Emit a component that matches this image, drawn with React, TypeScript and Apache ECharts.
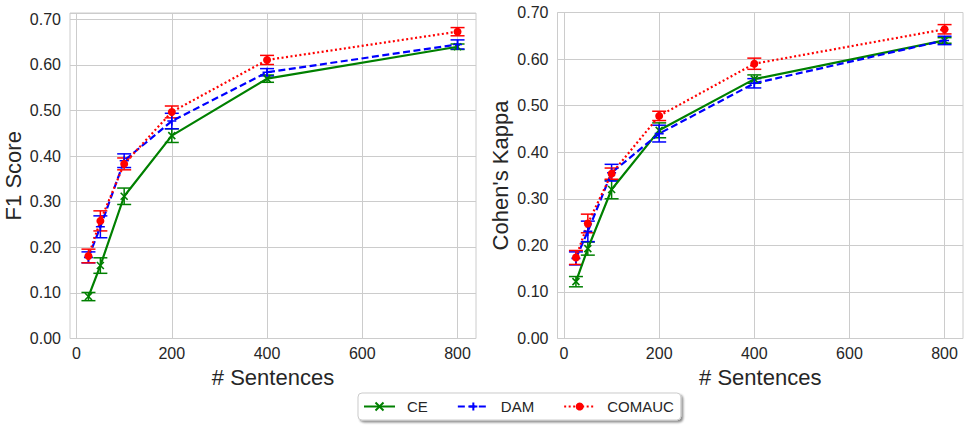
import React, { useEffect, useRef } from "react";
import * as echarts from "echarts";

const sentences = [25, 50, 100, 200, 400, 800];
const xTicks = [0, 200, 400, 600, 800];

const f1CE = [0.092, 0.16, 0.312, 0.445, 0.57, 0.64];
const f1CEErr = [0.009, 0.017, 0.018, 0.015, 0.008, 0.006];
const f1DAM = [0.178, 0.245, 0.39, 0.477, 0.584, 0.645];
const f1DAMErr = [0.012, 0.024, 0.015, 0.017, 0.008, 0.01];
const f1COM = [0.181, 0.258, 0.383, 0.497, 0.611, 0.673];
const f1COMErr = [0.015, 0.022, 0.013, 0.013, 0.01, 0.009];

const kCE = [0.122, 0.193, 0.32, 0.447, 0.557, 0.64];
const kCEErr = [0.011, 0.014, 0.02, 0.016, 0.009, 0.006];
const kDAM = [0.172, 0.23, 0.356, 0.44, 0.548, 0.64];
const kDAMErr = [0.014, 0.022, 0.018, 0.018, 0.01, 0.009];
const kCOM = [0.174, 0.247, 0.354, 0.478, 0.59, 0.664];
const kCOMErr = [0.015, 0.02, 0.012, 0.01, 0.012, 0.01];

const GREEN = "#008000";
const BLUE = "#0000ff";
const RED = "#ff0000";
const TXT = "#262626";
const GRID = "#cccccc";
const FONT = "'Liberation Sans', Arial, sans-serif";

const X_SYM = "path://M0,0L10,10M10,0L0,10";
const P_SYM = "path://M5,0L5,10M0,5L10,5";

function lineSeries(name: string, idx: number, vals: number[], color: string, type: any, symbol: string, size: number) {
  return {
    type: "line",
    name,
    xAxisIndex: idx,
    yAxisIndex: idx,
    data: sentences.map((x, i) => [x, vals[i]]),
    symbol,
    symbolSize: size,
    showSymbol: true,
    lineStyle: { color, width: 2.2, type },
    itemStyle: { color, borderColor: color, borderWidth: symbol === "circle" ? 0 : 1.6 },
    z: 3,
  };
}

function errSeries(name: string, idx: number, vals: number[], errs: number[], color: string) {
  return {
    type: "custom",
    name,
    xAxisIndex: idx,
    yAxisIndex: idx,
    data: sentences.map((x, i) => [x, vals[i] - errs[i], vals[i] + errs[i]]),
    encode: { x: 0, y: [1, 2] },
    z: 2,
    renderItem: (params: any, api: any) => {
      const x = api.value(0);
      const lo = api.coord([x, api.value(1)]);
      const hi = api.coord([x, api.value(2)]);
      const w = 7;
      const st = { stroke: color, lineWidth: 1.5 };
      return {
        type: "group",
        children: [
          { type: "line", shape: { x1: lo[0], y1: lo[1], x2: hi[0], y2: hi[1] }, style: st },
          { type: "line", shape: { x1: lo[0] - w, y1: lo[1], x2: lo[0] + w, y2: lo[1] }, style: st },
          { type: "line", shape: { x1: hi[0] - w, y1: hi[1], x2: hi[0] + w, y2: hi[1] }, style: st },
        ],
      };
    },
  };
}

function xAxis(idx: number) {
  return {
    type: "value",
    gridIndex: idx,
    min: -13.75,
    max: 838.75,
    name: "# Sentences",
    nameLocation: "middle",
    nameGap: 26,
    nameTextStyle: { fontSize: 22, color: TXT, fontFamily: FONT },
    axisLine: { show: false },
    axisTick: { show: false, customValues: xTicks },
    axisLabel: { customValues: xTicks, fontSize: 16, color: TXT, fontFamily: FONT, margin: 7 },
    splitLine: { show: true, lineStyle: { color: GRID, width: 1 } },
  };
}

function yAxis(idx: number, name: string, max: number) {
  return {
    type: "value",
    gridIndex: idx,
    min: 0,
    max,
    interval: 0.1,
    name,
    nameLocation: "middle",
    nameGap: 46,
    nameTextStyle: { fontSize: 22, color: TXT, fontFamily: FONT },
    axisLine: { show: false },
    axisTick: { show: false },
    axisLabel: {
      fontSize: 16,
      color: TXT,
      fontFamily: FONT,
      margin: 9,
      showMaxLabel: max <= 0.7,
      formatter: (v: number) => v.toFixed(2),
    },
    splitLine: { show: true, lineStyle: { color: GRID, width: 1 } },
  };
}

export default function App() {
  const ref = useRef<HTMLDivElement>(null);
  useEffect(() => {
    document.body.style.margin = "0";
    const chart = echarts.init(ref.current!, undefined, { renderer: "svg" });
    chart.setOption({
      animation: false,
      backgroundColor: "#ffffff",
      textStyle: { fontFamily: FONT },
      grid: [
        { left: 70, top: 13, width: 406, height: 325.5, show: true, borderColor: GRID, borderWidth: 1, backgroundColor: "transparent" },
        { left: 557.5, top: 12.5, width: 405.5, height: 326, show: true, borderColor: GRID, borderWidth: 1, backgroundColor: "transparent" },
      ],
      xAxis: [xAxis(0), xAxis(1)],
      yAxis: [yAxis(0, "F1 Score", 0.714), yAxis(1, "Cohen's Kappa", 0.7)],
      legend: {
        data: ["CE", "DAM", "COMAUC"],
        left: 358,
        top: 393,
        orient: "horizontal",
        itemWidth: 31,
        itemHeight: 10,
        itemGap: 29,
        padding: [6, 7, 6, 5],
        backgroundColor: "#ffffff",
        borderColor: "#cccccc",
        borderWidth: 1,
        borderRadius: 4,
        shadowColor: "rgba(0,0,0,0.45)",
        shadowBlur: 2,
        shadowOffsetX: 2,
        shadowOffsetY: 2,
        textStyle: { fontSize: 15, color: TXT, fontFamily: FONT, padding: [0, 0, 0, 7] },
      },
      series: [
        errSeries("CE-err", 0, f1CE, f1CEErr, GREEN),
        errSeries("DAM-err", 0, f1DAM, f1DAMErr, BLUE),
        errSeries("COMAUC-err", 0, f1COM, f1COMErr, RED),
        lineSeries("CE", 0, f1CE, GREEN, "solid", X_SYM, 7),
        lineSeries("DAM", 0, f1DAM, BLUE, [7, 3.5], P_SYM, 9),
        lineSeries("COMAUC", 0, f1COM, RED, [2, 2.5], "circle", 8),
        errSeries("CE-err", 1, kCE, kCEErr, GREEN),
        errSeries("DAM-err", 1, kDAM, kDAMErr, BLUE),
        errSeries("COMAUC-err", 1, kCOM, kCOMErr, RED),
        lineSeries("CE", 1, kCE, GREEN, "solid", X_SYM, 7),
        lineSeries("DAM", 1, kDAM, BLUE, [7, 3.5], P_SYM, 9),
        lineSeries("COMAUC", 1, kCOM, RED, [2, 2.5], "circle", 8),
      ],
    });
    return () => chart.dispose();
  }, []);
  return <div ref={ref} style={{ width: 969, height: 428 }} />;
}
